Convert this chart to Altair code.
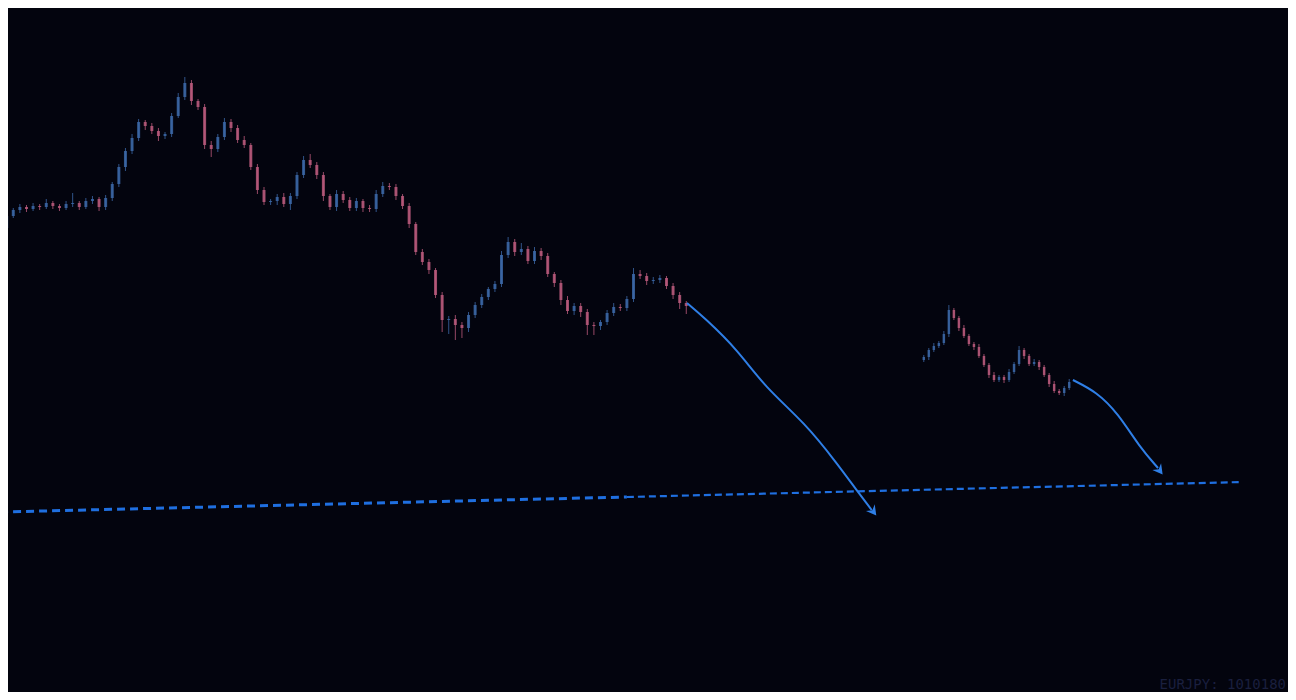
import altair as alt
import pandas as pd
import numpy as np

# ---- data (price levels, arbitrary units; higher = higher price) ----
seg1_first_open = 466
seg1_close = [472, 484, 490, 493, 491, 494, 493, 497, 494, 492,
              496, 497, 493, 499, 501, 493, 502, 516, 533, 549,
              562, 578, 574, 569, 564, 566, 584, 603, 617, 599,
              593, 555, 551, 563, 578, 572, 560, 555, 533, 510,
              498, 499, 503, 496, 504, 525, 540, 535, 525, 504,
              493, 506, 500, 492, 499, 492, 491, 506, 514, 513,
              504, 494, 476, 448, 438, 430, 405, 380, 381, 375,
              372, 385, 395, 403, 411, 416, 445, 458, 448, 451,
              439, 449, 444, 426, 417, 400, 389, 394, 388, 375,
              374, 378, 387, 393, 392, 401, 426, 424, 419, 420,
              422, 414, 405, 397, 394]
seg1_wick_up = [3, 2, 2, 3, 2, 3, 2, 4, 2, 2,
                3, 10, 2, 3, 3, 2, 3, 2, 3, 3,
                4, 3, 2, 3, 3, 2, 3, 4, 6, 3,
                2, 3, 4, 3, 4, 3, 3, 4, 2, 3,
                3, 2, 3, 4, 3, 3, 4, 6, 3, 3,
                2, 4, 3, 3, 3, 2, 3, 4, 4, 3,
                3, 2, 3, 2, 3, 3, 2, 3, 3, 4,
                3, 3, 3, 3, 2, 3, 4, 5, 3, 6,
                3, 4, 3, 3, 2, 3, 4, 3, 3, 3,
                3, 2, 3, 4, 3, 3, 6, 4, 3, 3,
                3, 2, 3, 3, 2]
seg1_wick_dn = [4, 3, 2, 3, 3, 2, 3, 2, 3, 3,
                2, 3, 3, 2, 3, 4, 3, 3, 3, 4,
                3, 3, 4, 3, 5, 3, 3, 2, 3, 4,
                3, 4, 8, 3, 3, 4, 3, 3, 3, 4,
                3, 3, 4, 3, 6, 3, 3, 3, 4, 5,
                3, 4, 3, 3, 3, 4, 3, 3, 3, 3,
                4, 3, 4, 3, 3, 4, 3, 12, 14, 15,
                10, 4, 3, 3, 3, 3, 3, 3, 4, 3,
                3, 3, 4, 3, 4, 5, 3, 4, 5, 10,
                9, 4, 3, 3, 3, 3, 3, 3, 4, 3,
                3, 3, 4, 6, 8]

seg2_start = 140.0
seg2_step = 0.76
seg2_first_open = 340
seg2_close = [343, 350, 354, 357, 366, 390, 382, 372, 364, 356,
              353, 344, 335, 325, 320, 323, 320, 328, 336, 350,
              344, 336, 338, 333, 325, 316, 309, 307, 312, 318]
seg2_wick_up = [2, 2, 3, 2, 3, 5, 2, 2, 3, 2,
                2, 3, 2, 2, 3, 2, 2, 3, 2, 4,
                2, 2, 3, 2, 2, 2, 3, 2, 2, 3]
seg2_wick_dn = [2, 3, 2, 2, 2, 3, 2, 3, 2, 2,
                3, 2, 2, 3, 2, 2, 3, 2, 2, 2,
                3, 2, 2, 3, 2, 3, 2, 2, 3, 2]

arrow1_t = [104.1, 106.8, 111.8, 115.9, 122.0, 126.8, 129.8, 132.1]
arrow1_v = [397, 382, 350, 313, 277, 237, 210, 190]
arrow2_t = [162.6, 166.2, 169.4, 172.7, 175.5]
arrow2_v = [320, 308, 287, 253, 232]
heads_t = [132.4, 175.8]
heads_v = [188, 229]

support_t = [0, 95, 95, 188.3]
support_v = [188, 203, 203, 218]
support_seg = ["a", "a", "b", "b"]

label_text = "EURJPY: 1010180"

# ---- build tables ----
def candles(t, first_open, close, wu, wd, seg):
    opens = [first_open] + close[:-1]
    rows = []
    for ti, o, c, u, d in zip(t, opens, close, wu, wd):
        rows.append({"t": ti, "open": o, "close": c,
                     "high": max(o, c) + u, "low": min(o, c) - d,
                     "dir": "up" if c >= o else "down", "seg": seg})
    return rows

t1 = list(range(len(seg1_close)))
t2 = list(seg2_start + seg2_step * np.arange(len(seg2_close)))
df = pd.DataFrame(candles(t1, seg1_first_open, seg1_close, seg1_wick_up, seg1_wick_dn, "s1")
                  + candles(t2, seg2_first_open, seg2_close, seg2_wick_up, seg2_wick_dn, "s2"))

xs = alt.Scale(domain=[1.2, 195.2], nice=False, zero=False)
ys = alt.Scale(domain=[8, 692], nice=False, zero=False)
X = alt.X("t:Q", scale=xs, axis=None)
Y = lambda f: alt.Y(f, scale=ys, axis=None)
col = alt.Color("dir:N", scale=alt.Scale(domain=["up", "down"], range=["#3c68a8", "#bb5a7c"]), legend=None)

base = alt.Chart(df)
wicks = base.mark_rule(strokeWidth=1, opacity=0.8, clip=True).encode(x=X, y=Y("low:Q"), y2="high:Q", color=col)
bodies1 = base.transform_filter("datum.seg == 's1'").mark_rule(strokeWidth=3, opacity=0.85, clip=True).encode(
    x=X, y=Y("open:Q"), y2="close:Q", color=col)
bodies2 = base.transform_filter("datum.seg == 's2'").mark_rule(strokeWidth=2.5, opacity=0.85, clip=True).encode(
    x=X, y=Y("open:Q"), y2="close:Q", color=col)

sup_df = pd.DataFrame({"t": support_t, "v": support_v, "seg": support_seg})
sup_a = alt.Chart(sup_df).transform_filter("datum.seg == 'a'").mark_line(
    color="#1f6fe0", strokeWidth=3, strokeDash=[8, 5], clip=True).encode(x=X, y=Y("v:Q"))
sup_b = alt.Chart(sup_df).transform_filter("datum.seg == 'b'").mark_line(
    color="#1f6fe0", strokeWidth=2.2, strokeDash=[7, 4], clip=True).encode(x=X, y=Y("v:Q"))

a1 = alt.Chart(pd.DataFrame({"t": arrow1_t, "v": arrow1_v})).mark_line(
    color="#2f7fe6", strokeWidth=2, interpolate="basis", clip=True).encode(x=X, y=Y("v:Q"))
a2 = alt.Chart(pd.DataFrame({"t": arrow2_t, "v": arrow2_v})).mark_line(
    color="#2f7fe6", strokeWidth=2, interpolate="basis", clip=True).encode(x=X, y=Y("v:Q"))
heads = alt.Chart(pd.DataFrame({"t": heads_t, "v": heads_v})).mark_point(
    shape="M-1,-1L0,0.8L1,-1L0,-0.4Z", filled=True, color="#2f7fe6", size=120, angle=323, opacity=1,
    clip=True).encode(x=X, y=Y("v:Q"))

label = alt.Chart(pd.DataFrame({"txt": [label_text]})).mark_text(
    align="right", baseline="bottom", font="DejaVu Sans Mono", fontSize=14, color="#1a1f3e").encode(
    x=alt.value(1278), y=alt.value(684), text="txt:N")

chart = alt.layer(sup_a, sup_b, wicks, bodies1, bodies2, a1, a2, heads, label).properties(
    width=1280, height=684,
    autosize=alt.AutoSizeParams(type="fit", contains="padding"),
    padding=0, background="#03040e"
).configure_view(stroke=None)

chart.save("out.html", embed_options={"renderer": "svg", "actions": False})
